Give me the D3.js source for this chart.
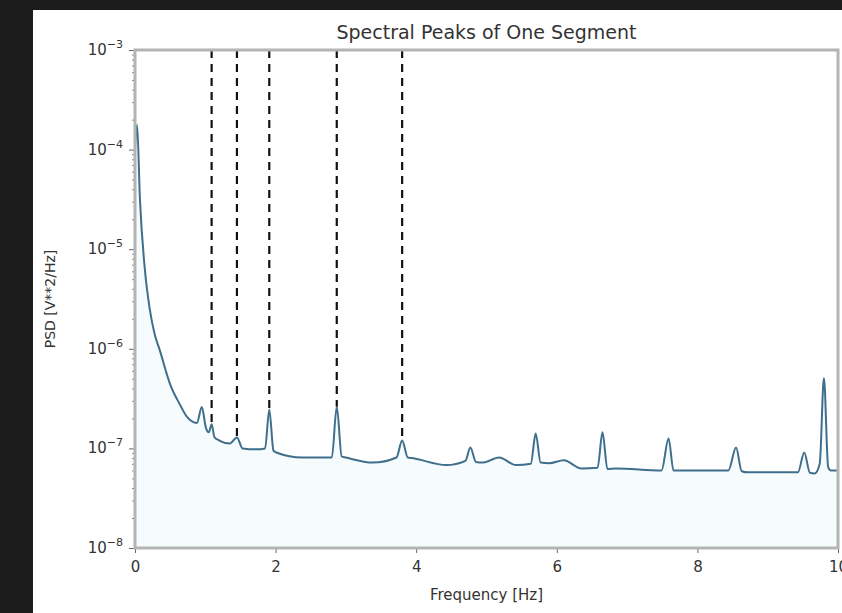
<!DOCTYPE html>
<html>
<head>
<meta charset="utf-8">
<script src="https://cdn.jsdelivr.net/npm/d3@7"></script>
<style>
  body { margin: 0; background: #1c1c1c; }
  svg { display: block; }
</style>
</head>
<body>
<div id="chart"></div>
<script>
// --- Daten ---
const freqs = [
  0.00, 0.03, 0.07, 0.14, 0.21, 0.28, 0.35, 0.50, 0.64, 0.74, 0.88, 0.95, 1.01,
  1.05, 1.09, 1.13, 1.20, 1.35, 1.45, 1.53, 1.73, 1.85, 1.91, 1.97, 2.01, 2.38, 2.80,
  2.87, 2.94, 3.00, 3.38, 3.72, 3.80, 3.88, 3.94, 4.43, 4.70, 4.77, 4.85, 4.94, 5.18,
  5.42, 5.63, 5.70, 5.77, 5.89, 6.10, 6.35, 6.58, 6.65, 6.72, 6.84, 7.49, 7.59, 7.66,
  7.73, 8.44, 8.55, 8.63, 8.72, 9.43, 9.52, 9.60, 9.67, 9.74, 9.80, 9.86, 9.90, 10.0
];
const psd = [
  1.0e-4, 1.78e-4, 3.2e-5, 6.3e-6, 2.5e-6, 1.4e-6, 9.8e-7, 4.4e-7, 2.75e-7, 2.07e-7, 1.8e-7, 2.6e-7, 1.6e-7,
  1.45e-7, 1.75e-7, 1.3e-7, 1.2e-7, 1.12e-7, 1.29e-7, 1.0e-7, 9.8e-8, 1.0e-7, 2.45e-7, 9.5e-8, 9.1e-8, 8.1e-8, 8.1e-8,
  2.63e-7, 8.3e-8, 8.1e-8, 7.2e-8, 8.1e-8, 1.2e-7, 8.1e-8, 8.0e-8, 6.8e-8, 7.5e-8, 1.02e-7, 7.3e-8, 7.2e-8, 8.1e-8,
  6.8e-8, 7.0e-8, 1.41e-7, 7.2e-8, 7.1e-8, 7.6e-8, 6.3e-8, 6.4e-8, 1.45e-7, 6.2e-8, 6.3e-8, 6.0e-8, 1.26e-7, 6.0e-8,
  6.0e-8, 6.0e-8, 1.02e-7, 5.9e-8, 5.75e-8, 5.75e-8, 9.1e-8, 5.7e-8, 5.6e-8, 7.0e-8, 5.1e-7, 6.5e-8, 6.0e-8, 6.0e-8
];
// markierte Peaks (gestrichelte Linien)
const peakFreqs = [1.09, 1.45, 1.91, 2.87, 3.80];

const xTicks = [0, 2, 4, 6, 8, 10];
const yTicks = [1e-3, 1e-4, 1e-5, 1e-6, 1e-7, 1e-8];

// --- Layout ---
const W = 842, H = 613;
const m = { left: 135, right: 2, top: 50, bottom: 65 };

const svg = d3.select('#chart').append('svg')
  .attr('width', W)
  .attr('height', H);

// Figurenhintergrund (dunkler Rand links/oben)
svg.append('rect')
  .attr('x', 33).attr('y', 10)
  .attr('width', W - 33).attr('height', H - 10)
  .attr('fill', '#ffffff');

const x = d3.scaleLinear().domain([0, 10]).range([m.left, W - m.right - 2]);
const y = d3.scaleLog().domain([1e-8, 1e-3]).range([H - m.bottom, m.top]);

const data = freqs.map((f, i) => ({ f, v: psd[i] }));

const g = svg.append('g');

// Fläche unter der Kurve
g.append('path')
  .datum(data)
  .attr('fill', '#7cc6dc')
  .attr('fill-opacity', 0.07)
  .attr('d', d3.area()
    .x(d => x(d.f))
    .y0(y(1e-8))
    .y1(d => y(d.v)));

// Kurve
g.append('path')
  .datum(data)
  .attr('fill', 'none')
  .attr('stroke', '#3f6f8c')
  .attr('stroke-width', 2)
  .attr('stroke-linejoin', 'round')
  .attr('d', d3.line().curve(d3.curveMonotoneX).x(d => x(d.f)).y(d => y(d.v)));

// Gestrichelte Linien an den Peaks
g.selectAll('.peak')
  .data(peakFreqs)
  .enter()
  .append('line')
  .attr('class', 'peak')
  .attr('x1', d => x(d))
  .attr('x2', d => x(d))
  .attr('y1', y(1e-3))
  .attr('y2', d => y(psd[freqs.indexOf(d)]))
  .attr('stroke', '#111')
  .attr('stroke-width', 2.2)
  .attr('stroke-dasharray', '8,6');

// --- Achsen ---
const font = 'DejaVu Sans, sans-serif';

const xAxis = svg.append('g')
  .attr('transform', `translate(0,${H - m.bottom})`)
  .call(d3.axisBottom(x).tickValues(xTicks).tickSize(5).tickPadding(8).tickFormat(d3.format('d')));
xAxis.select('.domain').remove();
xAxis.selectAll('line').attr('stroke', '#666');
xAxis.selectAll('text').attr('font-family', font).attr('font-size', 15).attr('fill', '#333');

// y-Achse (log) mit Nebenstrichen
const minor = [];
for (let e = -8; e < -3; e++) {
  for (let k = 2; k <= 9; k++) minor.push(k * Math.pow(10, e));
}
const yMinor = svg.append('g')
  .attr('transform', `translate(${m.left},0)`)
  .call(d3.axisLeft(y).tickValues(minor).tickSize(3).tickFormat(''));
yMinor.select('.domain').remove();
yMinor.selectAll('line').attr('stroke', '#888');

const yAxis = svg.append('g')
  .attr('transform', `translate(${m.left},0)`)
  .call(d3.axisLeft(y).tickValues(yTicks).tickSize(6).tickPadding(6).tickFormat(''));
yAxis.select('.domain').remove();
yAxis.selectAll('line').attr('stroke', '#666');

const yLab = svg.append('g');
yTicks.forEach(t => {
  const txt = yLab.append('text')
    .attr('x', m.left - 12)
    .attr('y', y(t) + 5)
    .attr('text-anchor', 'end')
    .attr('font-family', font)
    .attr('font-size', 15)
    .attr('fill', '#333');
  txt.append('tspan').text('10');
  txt.append('tspan')
    .attr('dy', -7)
    .attr('font-size', 11)
    .text('\u2212' + Math.round(-Math.log10(t)));
});

// Rahmen
svg.append('rect')
  .attr('x', m.left).attr('y', m.top)
  .attr('width', x(10) - m.left)
  .attr('height', y(1e-8) - m.top)
  .attr('fill', 'none')
  .attr('stroke', '#b4b4b4')
  .attr('stroke-width', 3);

// Titel und Beschriftungen
svg.append('text')
  .attr('x', (m.left + x(10)) / 2)
  .attr('y', 39)
  .attr('text-anchor', 'middle')
  .attr('font-family', font)
  .attr('font-size', 19)
  .attr('fill', '#333')
  .text('Spectral Peaks of One Segment');

svg.append('text')
  .attr('x', (m.left + x(10)) / 2)
  .attr('y', 600)
  .attr('text-anchor', 'middle')
  .attr('font-family', font)
  .attr('font-size', 15)
  .attr('fill', '#333')
  .text('Frequency [Hz]');

svg.append('text')
  .attr('transform', `translate(55,${(m.top + y(1e-8)) / 2}) rotate(-90)`)
  .attr('text-anchor', 'middle')
  .attr('font-family', font)
  .attr('font-size', 14)
  .attr('fill', '#333')
  .text('PSD [V**2/Hz]');
</script>
</body>
</html>
